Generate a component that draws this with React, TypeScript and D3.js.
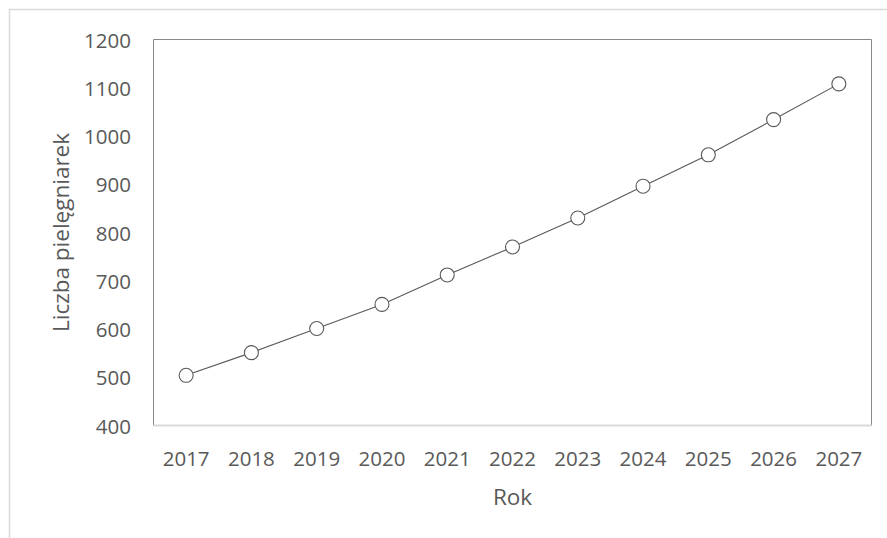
import React from "react";
import * as d3 from "d3";

// Nurse headcount by year
const years = ["2017", "2018", "2019", "2020", "2021", "2022", "2023", "2024", "2025", "2026", "2027"];
const nurses = [504, 551, 601, 651, 712, 770, 830, 896, 961, 1034, 1108];
const yTicks = [400, 500, 600, 700, 800, 900, 1000, 1100, 1200];

const W = 887;
const H = 538;
const plot = { left: 153.5, top: 39.5, right: 871.5, bottom: 425.5 };
const font = "'Open Sans', 'Noto Sans', sans-serif";
const textColor = "#595959";

export default function App() {
  const x = d3
    .scaleBand<string>()
    .domain(years)
    .range([plot.left, plot.right])
    .paddingInner(0)
    .paddingOuter(0);
  const cx = (yr: string) => (x(yr) ?? 0) + x.bandwidth() / 2;
  const y = d3.scaleLinear().domain([400, 1200]).range([plot.bottom, plot.top]);

  const line = d3
    .line<number>()
    .x((_, i) => cx(years[i]))
    .y((v) => y(v));

  return (
    <svg
      width={W}
      height={H}
      style={{ position: "absolute", left: 0, top: 0, display: "block", background: "#fff" }}
      fontFamily={font}
    >
      {/* chart frame */}
      <rect x={9.5} y={9.5} width={W + 10} height={H + 10} fill="#fff" stroke="#d9d9d9" strokeWidth={1.5} />

      {/* plot area border */}
      <path
        d={`M${plot.left},${plot.bottom} V${plot.top} H${plot.right} V${plot.bottom}`}
        fill="none"
        stroke="#898989"
        strokeWidth={1}
      />
      <line x1={plot.left} x2={plot.right} y1={plot.bottom} y2={plot.bottom} stroke="#d9d9d9" strokeWidth={2} />

      {/* y tick labels */}
      {yTicks.map((t) => (
        <text
          key={t}
          x={131}
          y={y(t)}
          textAnchor="end"
          dominantBaseline="central"
          fontSize={20.5}
          fill={textColor}
        >
          {t}
        </text>
      ))}

      {/* x tick labels */}
      {years.map((yr) => (
        <text key={yr} x={cx(yr)} y={458} textAnchor="middle" dominantBaseline="central" fontSize={20.5} fill={textColor}>
          {yr}
        </text>
      ))}

      {/* axis titles */}
      <text x={(plot.left + plot.right) / 2} y={496} textAnchor="middle" dominantBaseline="central" fontSize={22.5} fill={textColor}>
        Rok
      </text>
      <text
        transform={`translate(60,${(plot.top + plot.bottom) / 2}) rotate(-90)`}
        textAnchor="middle"
        dominantBaseline="central"
        fontSize={22.5}
        fill={textColor}
      >
        Liczba pielęgniarek
      </text>

      {/* series */}
      <path d={line(nurses) ?? ""} fill="none" stroke="#595959" strokeWidth={1.1} />
      {nurses.map((v, i) => (
        <circle key={years[i]} cx={cx(years[i])} cy={y(v)} r={7} fill="#fff" stroke="#595959" strokeWidth={1.1} />
      ))}
    </svg>
  );
}
